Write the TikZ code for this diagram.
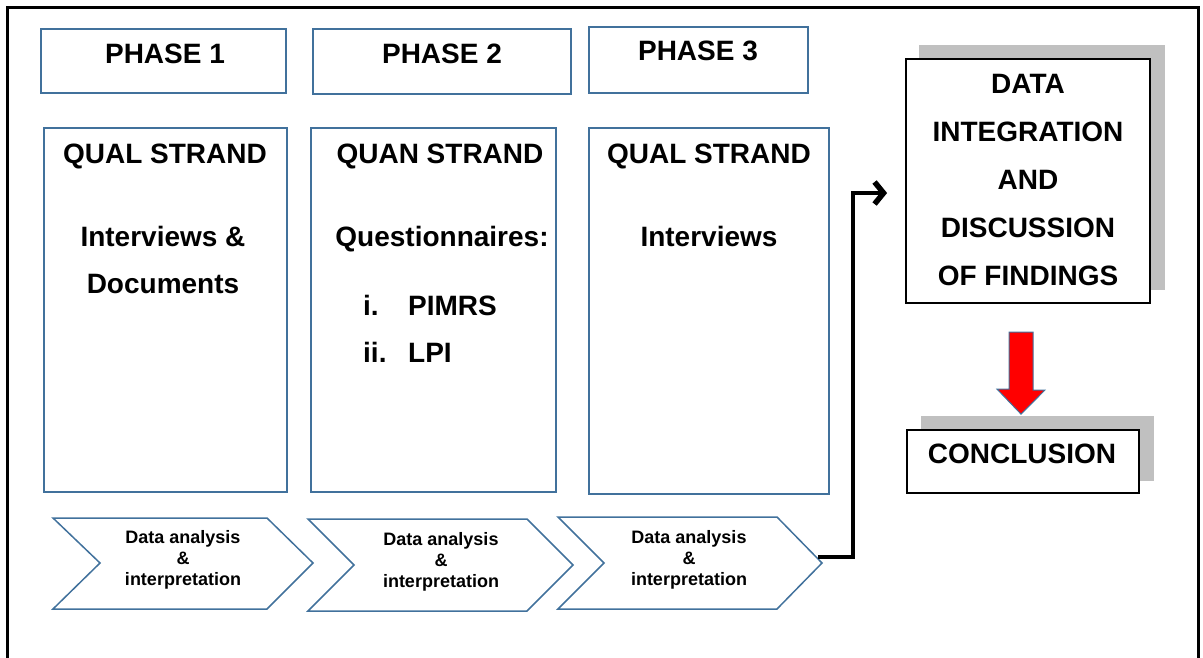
\documentclass[tikz,border=0pt]{standalone}
\usepackage{fontspec}
\setmainfont{Liberation Sans}
\usepackage{tikz}
\usetikzlibrary{arrows.meta}
\definecolor{boxblue}{RGB}{65,113,156}
\definecolor{shadowgray}{RGB}{192,192,192}
\tikzset{
	bluebox/.style={draw=boxblue, line width=1.8, inner sep=0},
	blackbox/.style={draw=black, fill=white, line width=1.8, inner sep=0},
	shadowbox/.style={fill=shadowgray, inner sep=0},
	bigtxt/.style={font=\bfseries\fontsize{28}{48}\selectfont, inner sep=0},
	smalltxt/.style={font=\bfseries\fontsize{18}{21}\selectfont, inner sep=0, align=center},
	chevron/.style={draw=boxblue, line width=1.5, line join=miter}
}

\begin{document}
\begin{tikzpicture}[x=1pt, y=-1pt]
		\useasboundingbox (0,0) rectangle (1203,657);
		\draw[line width=3] (7,662) -- (7,7) -- (1198,7) -- (1198,662);
		\node[bluebox, minimum width=245, minimum height=64] (ph1) at (163.5,61) {};
		\node[bluebox, minimum width=258, minimum height=65] (ph2) at (442,61.5) {};
		\node[bluebox, minimum width=219, minimum height=66] (ph3) at (698.5,60) {};
		\node[bigtxt, anchor=base] (ph1t) at (165,63) {PHASE 1};
		\node[bigtxt, anchor=base] (ph2t) at (442,63) {PHASE 2};
		\node[bigtxt, anchor=base] (ph3t) at (698,60) {PHASE 3};
		\node[bluebox, minimum width=243, minimum height=364] (s1) at (165.5,310) {};
		\node[bluebox, minimum width=245, minimum height=364] (s2) at (433.5,310) {};
		\node[bluebox, minimum width=240, minimum height=366] (s3) at (709,311) {};
		\node[bigtxt, anchor=base] (s1t) at (165,163) {QUAL STRAND};
		\node[bigtxt, anchor=base] (s2t) at (440,163) {QUAN STRAND};
		\node[bigtxt, anchor=base] (s3t) at (709,163) {QUAL STRAND};
		\node[bigtxt, anchor=base] (s1a) at (163,246) {Interviews \&};
		\node[bigtxt, anchor=base] (s1b) at (163,293) {Documents};
		\node[bigtxt, anchor=base] (s2a) at (442,246) {Questionnaires:};
		\node[bigtxt, anchor=base west] (s2i) at (363,315) {i.};
		\node[bigtxt, anchor=base west] (s2b) at (408,315) {PIMRS};
		\node[bigtxt, anchor=base west] (s2ii) at (363,362) {ii.};
		\node[bigtxt, anchor=base west] (s2c) at (408,362) {LPI};
		\node[bigtxt, anchor=base] (s3a) at (709,246) {Interviews};
		\draw[chevron] (53,518) -- (267,518) -- (313,563) -- (267,609) -- (53,609) -- (100,563) -- cycle;
		\draw[chevron] (308,519) -- (527,519) -- (573,565) -- (527,611) -- (308,611) -- (354,565) -- cycle;
		\draw[chevron] (558,517) -- (777,517) -- (822,563) -- (777,609) -- (558,609) -- (604,563) -- cycle;
		\node[smalltxt] (d1) at (183,559.5) {Data analysis\\\&\\interpretation};
		\node[smalltxt] (d2) at (441,561.5) {Data analysis\\\&\\interpretation};
		\node[smalltxt] (d3) at (689,559.5) {Data analysis\\\&\\interpretation};
		\node[shadowbox, minimum width=246, minimum height=245] (integsh) at (1042,167.5) {};
		\node[blackbox, minimum width=244, minimum height=244] (integ) at (1028,181) {};
		\node[bigtxt, align=center] (integt) at (1028,180) {DATA\\INTEGRATION\\AND\\DISCUSSION\\OF FINDINGS};
		\node[shadowbox, minimum width=233, minimum height=65] (conclsh) at (1037.5,448.5) {};
		\node[blackbox, minimum width=232, minimum height=63] (concl) at (1023,461.5) {};
		\node[bigtxt, anchor=base] (conclt) at (1022,463) {CONCLUSION};
		\coordinate (c3tip) at (818,557);
		\coordinate (elbow) at (853,193);
		\draw[line width=4, -{Straight Barb[length=9,width=22,line width=5.5]}, shorten >=18] (c3tip) -| (elbow) -- (elbow -| integ.west);
		\coordinate (redtop) at (1021,332);
		\coordinate (redtip) at ([yshift=15]concl.north -| redtop);
		\draw[fill=red, draw=boxblue, line width=1] ([xshift=-12]redtop) -- ([xshift=12]redtop) -- ++(0,58) -- ++(12,0) -- (redtip) -- ++(-24,-25) -- ++(12,0) -- cycle;
\end{tikzpicture}
\end{document}
